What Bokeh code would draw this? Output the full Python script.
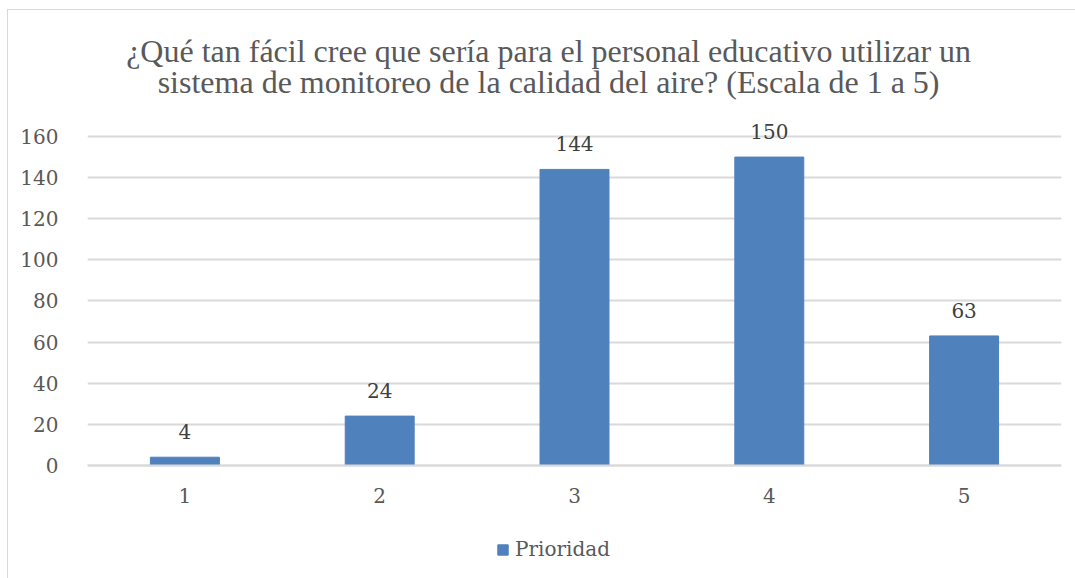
from bokeh.plotting import figure
from bokeh.models import Range1d, FactorRange, Legend, LegendItem, FixedTicker, ColumnDataSource, Label
from bokeh.embed import file_html
from bokeh.resources import INLINE

categories = ["1", "2", "3", "4", "5"]
values = [4, 24, 144, 150, 63]
y_ticks = [0, 20, 40, 60, 80, 100, 120, 140, 160]
series_name = "Prioridad"
title_lines = ["¿Qué tan fácil cree que sería para el personal educativo utilizar un",
               "sistema de monitoreo de la calidad del aire? (Escala de 1 a 5)"]

BAR = "#4f81bd"
TXT = "#595959"
GRID = "#d9d9d9"
SERIF = "DejaVu Serif"

src = ColumnDataSource(dict(cat=categories, val=values, lab=[str(v) for v in values]))

# frame spans the whole chart height; the category axis sits at y = 0 inside it
p = figure(
    frame_width=974, frame_height=568,
    x_range=FactorRange(*categories, range_padding=0),
    y_range=Range1d(-55.0, 221.3),
    output_backend="svg", toolbar_location=None,
    min_border_left=79, min_border_right=14, min_border_top=0, min_border_bottom=0,
)
p.title.visible = False
p.outline_line_color = None
p.background_fill_color = "white"
p.border_fill_color = "white"
p.styles = {"margin-left": "7px", "margin-top": "9px",
            "border-left": "1px solid #d9d9d9", "border-top": "1px solid #d9d9d9"}

r = p.vbar(x="cat", top="val", width=0.354, source=src, fill_color=BAR, line_color=BAR, line_width=1)
p.text(x="cat", y="val", text="lab", source=src, text_align="center", text_baseline="bottom",
       y_offset=-18, text_font={"value": SERIF}, text_font_size="20px", text_color="#404040")

# axes
p.yaxis.ticker = FixedTicker(ticks=y_ticks)
p.yaxis.axis_line_color = None
p.yaxis.major_tick_line_color = None
p.yaxis.minor_tick_line_color = None
p.yaxis.major_label_standoff = 23
p.yaxis.major_label_text_font = SERIF
p.yaxis.major_label_text_font_size = "20px"
p.yaxis.major_label_text_color = TXT

p.xaxis.fixed_location = 0
p.xaxis.axis_line_color = GRID
p.xaxis.axis_line_width = 2
p.xaxis.major_tick_line_color = None
p.xaxis.minor_tick_line_color = None
p.xaxis.major_label_standoff = 17
p.xaxis.major_label_text_font = SERIF
p.xaxis.major_label_text_font_size = "20px"
p.xaxis.major_label_text_color = TXT

p.xgrid.grid_line_color = None
p.ygrid.grid_line_color = GRID
p.ygrid.grid_line_width = 2

# two-line title, each line centred
for line, ty in zip(title_lines, [201.6, 186.3]):
    p.add_layout(Label(x=2.367, y=ty, text=line, text_align="center", text_baseline="alphabetic",
                       text_font="Liberation Serif", text_font_size="32px", text_color=TXT))

legend = Legend(items=[LegendItem(label=series_name, renderers=[r])], orientation="horizontal",
                location=(409, 17), glyph_width=13, glyph_height=13, label_standoff=6,
                label_text_font=SERIF, label_text_font_size="20px", label_text_color=TXT,
                border_line_color=None, background_fill_alpha=0, padding=0, margin=0)
p.add_layout(legend, "center")

open("out.html", "w").write(file_html(p, INLINE))
